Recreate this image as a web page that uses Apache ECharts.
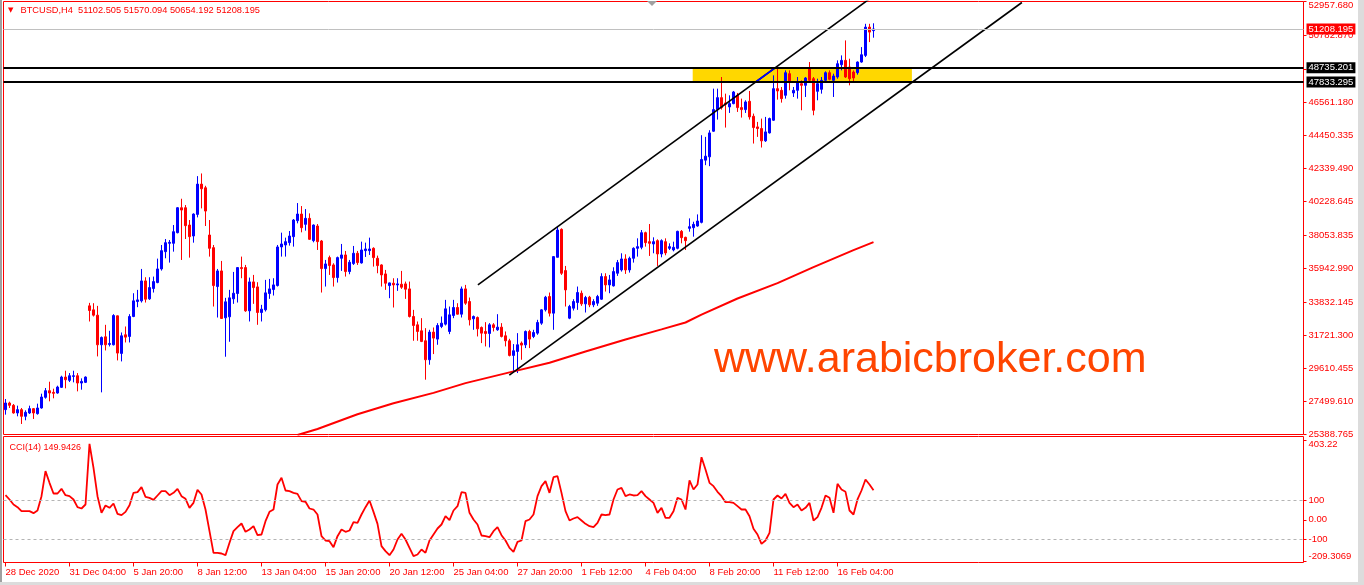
<!DOCTYPE html>
<html><head><meta charset="utf-8">
<script src="https://cdn.jsdelivr.net/npm/echarts@6/dist/echarts.min.js"></script>
<style>html,body{margin:0;padding:0;background:#fff;overflow:hidden}#chart{width:1364px;height:585px;}</style>
</head><body><div id="chart"></div>
<script>
// ---- x axis tick labels (one every 16 bars)
const tickLabels = ['28 Dec 2020','31 Dec 04:00','5 Jan 20:00','8 Jan 12:00','13 Jan 04:00','15 Jan 20:00','20 Jan 12:00','25 Jan 04:00','27 Jan 20:00','1 Feb 12:00','4 Feb 04:00','8 Feb 20:00','11 Feb 12:00','16 Feb 04:00'];
const tickStep = 16;
const slotCount = 325;

// ---- BTCUSD H4 candles
const opens = [26971,27395,27246,26759,26971,26547,26759,27035,26717,27077,
27755,28178,28072,28030,28390,29047,28835,29089,29131,28665,
28708,33579,33325,32986,31101,31609,31122,31101,32944,30551,
31737,31631,32901,33855,33897,35168,34024,34681,35062,35930,
37031,37561,37561,38239,39827,39827,38726,38027,39404,41331,
41098,38090,37286,34808,35803,32818,32882,34025,34364,36016,
36016,33262,35105,34787,33157,33326,34364,34618,34872,37329,
37456,37604,37986,39002,39426,38769,39151,37731,38663,37710,
35952,36651,36185,35380,36609,36821,35762,36270,36927,36312,
37096,37096,37244,36608,36185,35613,34872,35020,34914,34956,
34978,34660,32902,32372,31991,31356,30149,31907,31462,32267,
32415,31949,32966,33474,33050,34660,33855,32754,32838,32203,
31949,31822,32372,32055,32224,31674,31356,30424,30678,31207,
31096,31949,31631,31843,32478,33325,34173,33114,36672,38451,
35825,32796,33431,33791,34384,33706,34130,33643,33749,34003,
35443,34914,34850,35655,35867,36566,35867,36608,37244,37307,
38239,37667,37519,37731,36884,37666,37243,37137,37243,38323,
37941,38514,38556,38662,38895,42855,43067,44698,46075,46837,
46498,46244,46456,46985,46202,46075,46604,45651,44974,44868,
44084,44592,45397,47409,47303,46985,48362,47133,47303,47726,
47620,48679,48044,47239,47366,47938,48425,47938,48150,48933,
49209,48785,48468,48425,49103,49527,51327,51102.505];
const closes = [27395,27246,26759,26971,26547,26802,27035,26759,27077,27776,
28178,28030,28009,28411,29047,28877,29131,29131,28665,28771,
29047,33283,32986,31101,31567,31101,31186,32965,30572,31673,
31588,32901,33897,33960,35168,34003,34744,35125,35930,37095,
37603,37625,38302,39827,39679,38684,37985,39425,41331,41034,
39615,37243,34871,35803,32775,33835,34089,34385,36016,35952,
33262,35105,34745,33157,33368,34406,34660,34915,37329,37520,
37668,38028,39045,39426,38557,39151,37816,38727,37668,35952,
36249,36143,35380,36651,36821,35762,36355,36927,36333,37138,
37202,37202,36651,36142,35549,35020,35041,34914,34978,34766,
34638,32902,32330,31949,31313,30149,31907,31525,32330,32478,
33389,33008,33474,33050,34660,33749,32690,32902,32118,31843,
31822,32372,32203,32224,31631,31356,30424,30721,31102,31080,
31949,31462,31885,32521,33325,34130,33114,36714,38409,35655,
34596,33537,33855,34427,33706,34109,33643,33855,34173,35443,
34914,35232,35761,36333,36566,35867,36608,37244,37350,38239,
37604,37561,37667,36884,37731,36950,37349,37306,38323,37920,
37730,38620,38768,38980,42898,43110,44592,46075,46837,46202,
46414,46456,47197,46202,46075,46562,45609,44931,44868,44084,
44656,45503,47409,47261,46773,48425,47832,47303,47832,47620,
48086,47938,46032,47726,47938,48425,48001,48213,48997,49209,
48150,48044,48086,49103,49569,51327,51009,51208.195];
const lows = [26653,27077,26717,26547,26060,26293,26696,26378,26653,27035,
27670,27500,27691,27988,28348,28327,28729,28708,28136,28242,
28665,32584,32901,30360,28072,30741,30995,31059,30106,30042,
31249,31249,32859,33494,33791,33791,33960,34427,35020,35824,
36608,36333,37031,38196,36502,37836,36650,37603,39213,39785,
38662,36714,33537,32838,32775,30341,31294,33707,33792,35338,
33200,32585,33707,32373,32585,33220,34025,34237,34809,36715,
36715,37414,37350,38833,38261,38367,37780,37626,37138,34427,
34809,35550,34809,35063,35804,35444,35592,36185,36185,36270,
36694,36821,36079,35655,34808,34596,34067,33474,34533,34660,
34024,32838,31356,31356,31271,28878,29831,30509,31102,32161,
32330,31779,32796,33030,32838,33643,32330,32055,31631,31208,
30996,30932,31949,31992,31568,30996,30361,29365,29302,30148,
30890,30890,31525,31737,32372,33219,32902,32055,36672,35549,
33537,32732,33283,33325,33579,33156,33495,33495,33579,33961,
34490,34384,34808,35486,35761,35613,35698,36333,36714,37180,
37350,36757,36926,36121,36672,36800,37137,37050,37179,37561,
37137,38302,37984,38620,38831,42538,42474,44656,45439,46075,
44931,45863,46414,45927,45566,45863,45439,43914,44338,43660,
44020,44550,45355,46710,46519,46773,47303,46879,46773,46032,
46879,47874,45714,46667,47091,47832,47938,46879,48044,48573,
48086,47620,47832,48298,49060,49421,50374,50654.192];
const highs = [27649,27479,27331,27225,27077,26929,27225,27077,27352,27988,
28348,28750,28306,28496,29131,29449,29301,29449,29301,28962,
29089,33770,33749,33579,31631,32372,31991,33050,32965,31885,
32266,33050,34384,34596,35930,35401,35401,35443,36587,37455,
37836,37773,38726,39870,40399,39997,39044,39467,41839,42009,
41225,39044,37455,35930,36439,34089,34597,35740,36050,36715,
36185,35380,35550,35084,33644,35232,35296,35338,37456,38240,
37922,38346,39108,40125,39934,39743,39468,38760,38790,37774,
36503,36778,36291,36715,37520,37075,36503,37393,37075,37668,
37604,37922,37308,36778,36227,35867,35060,35338,35338,35804,
35126,35126,33325,32584,32796,32160,32055,32203,32478,32902,
33961,33537,33961,33749,34808,34914,34109,32966,32902,32267,
32542,32478,32478,33050,32478,31949,31483,31144,31843,31313,
32012,32055,32055,32690,33368,34215,34427,36750,38663,38515,
36121,33643,34003,34808,34554,34215,34215,34003,34279,35655,
35655,35549,36036,36502,36926,36862,36714,37307,37879,38409,
38303,38790,37943,37816,37816,37878,37561,37666,38365,38408,
37984,39149,38937,39403,44444,44338,44762,47409,47409,48150,
47091,46985,47261,47134,46774,46668,47261,45821,45291,45503,
45609,45566,48256,48700,47514,48573,48573,47514,48150,47938,
48150,49103,48150,48044,48150,48510,48573,48362,49209,49526,
50480,49315,48573,49145,50056,51538,51538,51570.094];

// ---- moving average (bar index, price)
const maPoints = [[73,25360],[78,25740],[88,26680],[97,27380],[107,28040],[115,28660],[126,29343],[136,29960],[145,30670],[155,31440],[164,32080],[170,32520],[174,33020],[183,34050],[193,35023],[202,36050],[212,37130],[217,37640]];

// ---- drawn objects (bar index, price)
const upperChannel = [[118.1,34915],[216,53124]];
const lowerChannel = [[125.95,29166],[254.1,52894]];
const channelInZone = [[187.55,47833.295],[192.4,48735.201]];
const zoneX = [171.8, 226.6];
const zonePrices = [48735.201, 47833.295];
const zoneLabels = ['48735.201', '47833.295'];
const currentPrice = 51208.195;
const currentLabel = '51208.195';

// ---- price axis tick labels
const priceTicks = [25388.765,27499.610,29610.455,31721.300,33832.145,35942.990,38053.835,40228.645,42339.490,44450.335,46561.180,48672.025,50782.870,52957.680];
const priceMin = 25388.765, priceMax = 52957.680;

// ---- CCI(14)
const cci = [125.5,103.5,78.0,64.5,44.1,44.1,44.1,34.0,47.5,120.4,
247.5,188.2,134.0,134.0,157.7,125.5,120.4,103.5,64.5,57.7,
78.0,386.4,264.4,120.4,35.7,73.0,61.1,83.1,30.6,23.8,
40.7,74.6,137.3,140.7,166.2,117.0,111.9,101.8,123.8,145.8,
145.8,125.5,137.3,157.7,120.4,106.8,61.1,86.5,152.6,128.9,
52.6,-57.5,-167.7,-167.7,-171.1,-179.6,-116.8,-57.5,-37.2,-18.6,
-60.9,-49.1,-32.1,-77.9,-74.5,-6.7,40.7,52.6,179.7,213.6,
149.2,145.8,137.3,132.3,95.0,91.6,57.7,52.6,27.2,-83.0,
-105.0,-108.4,-138.9,-83.0,-49.1,-60.9,-54.1,-11.8,-15.2,27.2,
64.5,98.4,40.7,-20.3,-133.8,-159.2,-179.6,-150.7,-99.9,-71.1,
-99.9,-142.3,-184.6,-176.2,-150.7,-167.7,-105.0,-74.5,-44.0,-23.6,
18.7,-1.6,47.5,69.6,140.7,137.3,35.7,1.8,-23.6,-79.6,
-83.0,-88.0,-57.5,-37.2,-77.9,-105.0,-142.3,-162.6,-111.8,-105.0,
-6.7,1.8,27.2,120.4,171.2,196.7,137.3,217.0,222.1,137.3,
44.1,-3.3,6.9,13.6,-3.3,-20.3,-32.1,-37.2,-15.2,27.2,
23.8,27.2,103.5,154.3,162.8,120.4,128.9,123.8,125.5,145.8,
120.4,103.5,86.5,35.7,61.1,10.3,10.3,44.1,111.9,103.5,
52.6,200.1,154.3,179.7,318.7,256.0,188.2,171.2,142.4,120.4,
89.9,89.9,86.5,69.6,52.6,52.6,18.7,-45.7,-74.5,-121.9,
-105.0,-66.0,103.5,123.8,108.5,132.3,86.5,64.5,78.0,47.5,
61.1,86.5,-3.3,13.6,61.1,123.8,111.9,35.7,183.1,154.3,
142.4,47.5,27.2,103.5,149.2,205.1,179.7,149.9426];
const cciTicks = [403.22, 100, 0, -100, -209.3069];
const cciTickLabels = ['403.22','100','0.00','-100','-209.3069'];
const cciLevels = [100, -100];
const cciMin = -216.8, cciMax = 423.7;

const titleText = 'BTCUSD,H4  51102.505 51570.094 50654.192 51208.195';
const cciText = 'CCI(14) 149.9426';
const watermark = 'www.arabicbroker.com';

// ---------------------------------------------------------------
const FONT = '"Liberation Sans", Arial, sans-serif';
const RED = '#ff0000';
const categories = Array.from({length: slotCount}, (_, i) => String(i));
const candleData = opens.map((o, i) => [o, closes[i], lows[i], highs[i]]);
const showTick = (idx) => idx % tickStep === 0 && idx / tickStep < tickLabels.length;

const chart = echarts.init(document.getElementById('chart'), null, {renderer: 'canvas'});
chart.setOption({
  animation: false,
  backgroundColor: '#ffffff',
  grid: [
    {left: 3.5, top: 0.5, width: 1300, height: 434, show: true, borderColor: RED, borderWidth: 1, backgroundColor: '#ffffff'},
    {left: 3.5, top: 436.5, width: 1300, height: 126, show: true, borderColor: RED, borderWidth: 1, backgroundColor: '#ffffff'}
  ],
  xAxis: [
    {type: 'category', gridIndex: 0, data: categories, boundaryGap: true, show: false, axisLine: {onZero: false}},
    {type: 'category', gridIndex: 1, data: categories, boundaryGap: true,
      axisLine: {show: false, onZero: false},
      axisTick: {show: true, alignWithLabel: true, interval: showTick, length: 4, lineStyle: {color: RED}},
      axisLabel: {show: true, interval: showTick, formatter: (v, i) => tickLabels[Math.round(Number(v) / tickStep)] || '',
        color: RED, fontSize: 9.5, fontFamily: FONT, align: 'left', margin: 5}},
    {type: 'value', gridIndex: 0, min: -0.5, max: slotCount - 0.5, show: false, axisLine: {onZero: false}}
  ],
  yAxis: [
    {type: 'value', gridIndex: 0, position: 'right', min: priceMin, max: priceMax, scale: true,
      axisLine: {show: false, onZero: false}, splitLine: {show: false},
      axisTick: {show: true, length: 3, customValues: priceTicks, lineStyle: {color: RED}},
      axisLabel: {show: true, customValues: priceTicks, margin: 5, color: RED, fontSize: 9.5, fontFamily: FONT,
        formatter: v => Math.abs(v - priceMax) < 0.01 ? '{top|' + v.toFixed(3) + '}' : v.toFixed(3),
        rich: {top: {color: RED, fontSize: 9.5, fontFamily: FONT, padding: [7, 0, 0, 0]}}}},
    {type: 'value', gridIndex: 1, position: 'right', min: cciMin, max: cciMax,
      axisLine: {show: false, onZero: false}, splitLine: {show: false},
      axisTick: {show: true, length: 3, customValues: cciTicks, lineStyle: {color: RED}},
      axisLabel: {show: true, customValues: cciTicks, margin: 5, color: RED, fontSize: 9.5, fontFamily: FONT,
        formatter: v => {
          const k = cciTicks.findIndex(t => Math.abs(t - v) < 1e-6);
          if (k === 0) return '{top|' + cciTickLabels[k] + '}';
          if (k === cciTicks.length - 1) return '{bot|' + cciTickLabels[k] + '}';
          return k >= 0 ? cciTickLabels[k] : '';
        },
        rich: {
          top: {color: RED, fontSize: 9.5, fontFamily: FONT, padding: [8, 0, 0, 0]},
          bot: {color: RED, fontSize: 9.5, fontFamily: FONT, padding: [0, 0, 9, 0]}
        }}}
  ],
  series: [
    {type: 'candlestick', name: 'BTCUSD', xAxisIndex: 0, yAxisIndex: 0, data: candleData, barWidth: 2,
      itemStyle: {color: '#0000ff', color0: '#ff0000', borderColor: '#0000ff', borderColor0: '#ff0000', borderWidth: 1}},
    {type: 'line', name: 'MA', xAxisIndex: 2, yAxisIndex: 0, data: maPoints, showSymbol: false, symbol: 'none', clip: true,
      lineStyle: {color: '#ff0000', width: 2},
      markArea: {silent: true, itemStyle: {color: '#ffd700'},
        data: [[{xAxis: zoneX[0], yAxis: zonePrices[0]}, {xAxis: zoneX[1], yAxis: zonePrices[1]}]]},
      markLine: {silent: true, symbol: 'none', animation: false,
        label: {show: true, position: 'end', distance: 3, color: '#ffffff', fontSize: 9.5, fontFamily: FONT, padding: [1, 2, 0, 2],
          formatter: '{b}'},
        data: [
          {name: currentLabel, yAxis: currentPrice, lineStyle: {color: '#c0c0c0', width: 1, type: 'solid'}, label: {backgroundColor: '#ff0000'}},
          {name: zoneLabels[0], yAxis: zonePrices[0], lineStyle: {color: '#000000', width: 2, type: 'solid'}, label: {backgroundColor: '#000000'}},
          {name: zoneLabels[1], yAxis: zonePrices[1], lineStyle: {color: '#000000', width: 2, type: 'solid'}, label: {backgroundColor: '#000000'}}
        ]}},
    {type: 'line', name: 'upper', xAxisIndex: 2, yAxisIndex: 0, data: upperChannel, showSymbol: false, symbol: 'none', clip: true,
      lineStyle: {color: '#000000', width: 1.6}},
    {type: 'line', name: 'lower', xAxisIndex: 2, yAxisIndex: 0, data: lowerChannel, showSymbol: false, symbol: 'none', clip: true,
      lineStyle: {color: '#000000', width: 1.6}},
    {type: 'line', name: 'upperInZone', xAxisIndex: 2, yAxisIndex: 0, data: channelInZone, showSymbol: false, symbol: 'none', clip: true,
      lineStyle: {color: '#0000ff', width: 1.6}},
    {type: 'line', name: 'CCI', xAxisIndex: 1, yAxisIndex: 1, data: cci, showSymbol: false, symbol: 'none',
      lineStyle: {color: '#ff0000', width: 1.8},
      markLine: {silent: true, symbol: 'none', label: {show: false},
        lineStyle: {color: '#b4b4b4', width: 1, type: [3, 3]},
        data: cciLevels.map(v => ({yAxis: v}))}}
  ],
  graphic: [
    {type: 'rect', left: 0, top: 0, z: 100, shape: {width: 2, height: 585}, style: {fill: '#a0a0a0'}},
    {type: 'rect', left: 1358, top: 0, z: 100, shape: {width: 6, height: 585}, style: {fill: '#dcdcdc'}},
    {type: 'rect', left: 0, top: 582, z: 100, shape: {width: 1364, height: 3}, style: {fill: '#dcdcdc'}},
    {type: 'polygon', z: 100, shape: {points: [[647, 1], [657, 1], [652, 6]]}, style: {fill: '#a0a0a0'}},
    {type: 'text', x: 8, y: 10, z: 100, style: {text: '▼', fill: RED, font: '7px "DejaVu Sans", sans-serif', verticalAlign: 'middle'}},
    {type: 'text', x: 20.5, y: 10.5, z: 100, style: {text: titleText, fill: RED, font: '9.25px ' + FONT, verticalAlign: 'middle'}},
    {type: 'text', x: 9.5, y: 447.5, z: 100, style: {text: cciText, fill: RED, font: '9px ' + FONT, verticalAlign: 'middle'}},
    {type: 'text', x: 714, y: 360, z: 100, style: {text: watermark, fill: '#ff4500', font: '43px ' + FONT, verticalAlign: 'middle'}}
  ]
});
</script>
</body></html>
